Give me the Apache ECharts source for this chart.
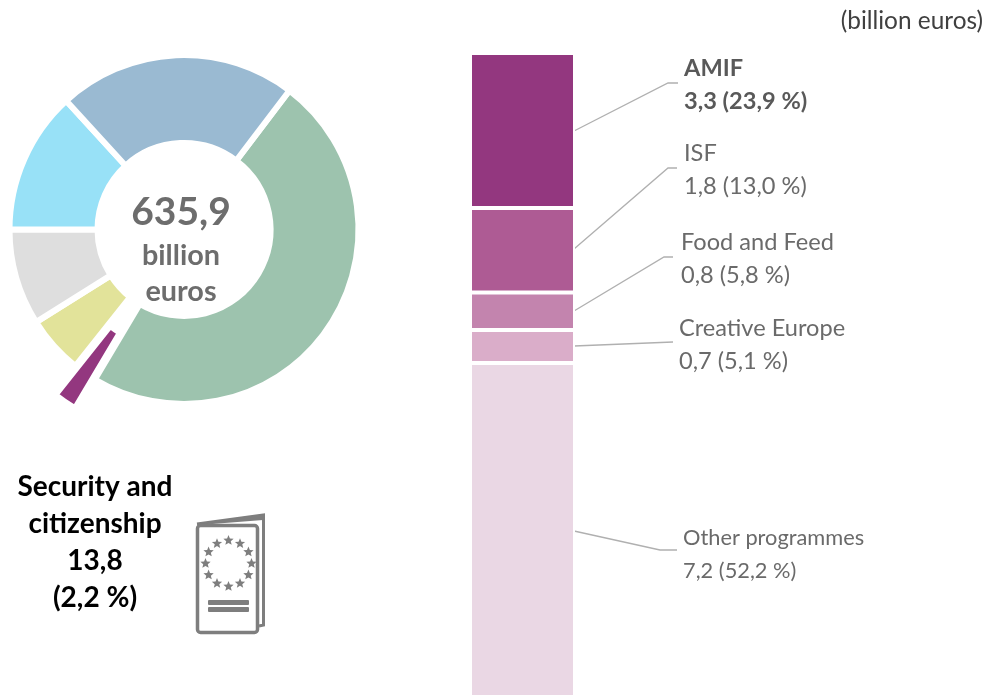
<!DOCTYPE html>
<html><head><meta charset="utf-8">
<style>html,body{margin:0;padding:0;background:#fff}#c{width:990px;height:695px}</style>
<script src="https://cdn.jsdelivr.net/npm/echarts@6/dist/echarts.min.js"></script>
</head><body><div id="c"></div>
<script>
// Budget headings (billion euros); heading names are not shown in the picture
const donutValues = [306.5, 13.8, 34.3, 56.6, 84.0, 140.7];
const donutColors = ['#9DC3AE', '#93377F', '#E2E39A', '#DEDEDE', '#98E1F7', '#9ABAD2'];
const highlightedIndex = 1;

const programmes = ['AMIF', 'ISF', 'Food and Feed', 'Creative Europe', 'Other programmes'];
const programmeValues = [3.3, 1.8, 0.8, 0.7, 7.2];
const programmeLabels = ['3,3 (23,9 %)', '1,8 (13,0 %)', '0,8 (5,8 %)', '0,7 (5,1 %)', '7,2 (52,2 %)'];
const programmeColors = ['#93377F', '#AE5B94', '#C384AE', '#DAADC9', '#EAD7E4'];

const totalLabel = '635,9';
const unitLabel = '(billion euros)';
const headingLines = ['Security and', 'citizenship', '13,8', '(2,2 %)'];

const FONT = 'Lato, Carlito, "Open Sans", sans-serif';
const chart = echarts.init(document.getElementById('c'), null, {renderer: 'canvas'});

function txt(x, y, text, size, color, weight, align) {
  return {type: 'text', x, y, silent: true, style: {
    text, fontFamily: FONT, fontSize: size, fill: color,
    fontWeight: weight || 'normal', align: align || 'left', verticalAlign: 'middle'}};
}
function leader(points) {
  return {type: 'polyline', silent: true, shape: {points}, style: {stroke: '#B0B0B0', lineWidth: 1.3, fill: null}};
}
const labelPos = [
  {x: 684, y: 68, size: 23.6, bold: true, line: [[574, 131], [668, 83], [678, 83]]},
  {x: 684, y: 153, size: 23.6, line: [[574, 249], [668, 168], [677, 168]]},
  {x: 681, y: 242, size: 23.6, line: [[574, 311], [664, 257], [673, 257]]},
  {x: 679, y: 328, size: 23.6, line: [[574, 346], [673, 342]]},
  {x: 683, y: 538, size: 21.8, line: [[574, 531], [660, 550], [677, 550]]}
];
const graphics = [];
programmes.forEach((p, i) => {
  const l = labelPos[i], w = l.bold ? 'bold' : 'normal', c = l.bold ? '#595959' : '#6A6A6A';
  graphics.push(leader(l.line));
  graphics.push(txt(l.x, l.y, p, l.size, c, w));
  graphics.push(txt(l.x, l.y + 33, programmeLabels[i], l.size, c, w));
});
graphics.push(txt(983, 21, unitLabel, 24.4, '#404040', 'normal', 'right'));
graphics.push(txt(181, 212, totalLabel, 39, '#6D6D6D', 'bold', 'center'));
graphics.push(txt(181, 256, 'billion', 28.8, '#6D6D6D', 'bold', 'center'));
graphics.push(txt(181, 292, 'euros', 28.8, '#6D6D6D', 'bold', 'center'));
headingLines.forEach((t, i) => graphics.push(txt(95, 487 + i * 37, t, 28, '#000', 'bold', 'center')));

// Passport icon
const ic = '#7E7E7E';
graphics.push({type: 'polyline', silent: true, shape: {points: [[197, 524], [263.5, 515], [263.5, 625], [259, 626]]},
  style: {stroke: ic, lineWidth: 3, fill: null}});
graphics.push({type: 'polygon', silent: true, shape: {points: [[199, 523], [263, 515], [263, 520], [212, 524]]},
  style: {fill: ic}});
graphics.push({type: 'rect', silent: true, shape: {x: 197.5, y: 525.5, width: 60, height: 107, r: 3},
  style: {stroke: ic, lineWidth: 3.5, fill: '#fff'}});
for (let i = 0; i < 12; i++) {
  const a = i * Math.PI / 6, cx = 228.5 + 23 * Math.sin(a), cy = 563.5 - 23 * Math.cos(a), pts = [];
  for (let k = 0; k < 10; k++) {
    const r = k % 2 ? 2.4 : 5.4, b = k * Math.PI / 5;
    pts.push([cx + r * Math.sin(b), cy - r * Math.cos(b)]);
  }
  graphics.push({type: 'polygon', silent: true, shape: {points: pts}, style: {fill: ic}});
}
graphics.push({type: 'rect', silent: true, shape: {x: 208, y: 600, width: 41, height: 5, r: 1}, style: {fill: ic}});
graphics.push({type: 'rect', silent: true, shape: {x: 208, y: 607, width: 41, height: 5, r: 1}, style: {fill: ic}});

chart.setOption({
  animation: false,
  backgroundColor: '#fff',
  grid: {left: 470, width: 105, top: 53, height: 648, containLabel: false, outerBoundsMode: 'none'},
  xAxis: {type: 'category', data: ['Security and citizenship'], show: false},
  yAxis: {type: 'value', inverse: true, min: 0, max: 13.8, show: false},
  series: [
    {
      type: 'pie',
      center: [184, 229.5],
      radius: [86.5, 174.5],
      startAngle: 52.8,
      clockwise: true,
      selectedMode: 'single',
      selectedOffset: 35,
      label: {show: false},
      labelLine: {show: false},
      emphasis: {disabled: true},
      silent: true,
      itemStyle: {borderColor: '#fff', borderWidth: 6},
      data: donutValues.map((v, i) => ({
        value: v, selected: i === highlightedIndex, itemStyle: {color: donutColors[i]}
      }))
    },
    ...programmes.map((p, i) => ({
      type: 'bar',
      name: p,
      stack: 'programmes',
      barWidth: '100%',
      silent: true,
      itemStyle: {color: programmeColors[i], borderColor: '#fff', borderWidth: 2},
      data: [programmeValues[i]]
    }))
  ],
  graphic: {elements: graphics}
});
</script></body></html>
